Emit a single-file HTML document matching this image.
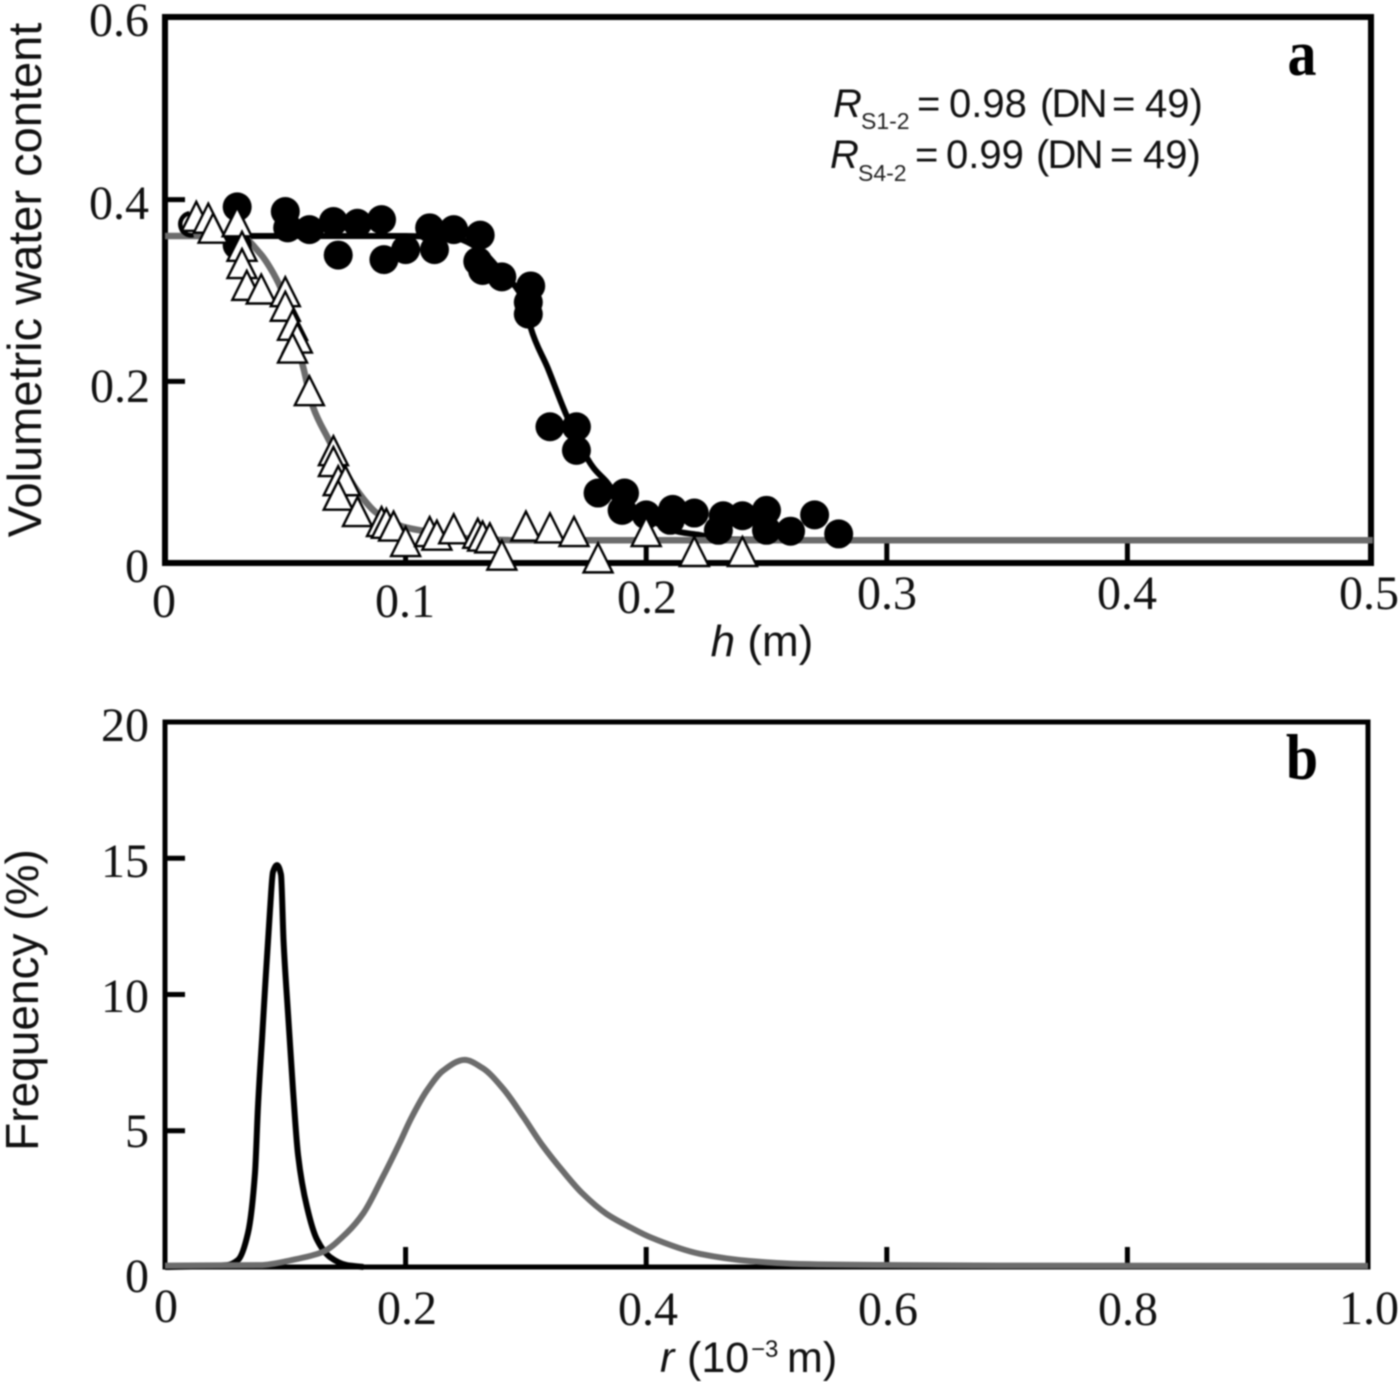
<!DOCTYPE html>
<html lang="en">
<head>
<meta charset="utf-8">
<title>Water retention and pore size distribution</title>
<style>
html,body{margin:0;padding:0;background:#fff;width:1400px;height:1382px;overflow:hidden}
svg{display:block;filter:blur(0.7px)}
.tick{font-family:"Liberation Serif",serif;font-size:48px;fill:#111}
.title{font-family:"Liberation Sans",sans-serif;font-size:44px;fill:#111}
.note{font-family:"Liberation Sans",sans-serif;font-size:40px;fill:#111}
.sub{font-family:"Liberation Sans",sans-serif;font-size:23px;fill:#222}
.panel{font-family:"Liberation Serif",serif;font-size:58px;font-weight:bold;fill:#000}
</style>
</head>
<body>
<svg id="chart" xmlns="http://www.w3.org/2000/svg" width="1400" height="1382" viewBox="0 0 1400 1382">
  <rect x="0" y="0" width="1400" height="1382" fill="#fff"/>
  <g id="panelA"></g>
  <g id="panelB"></g>

  <g text-anchor="middle">
    <text class="tick" x="164" y="617">0</text>
    <text class="tick" x="405" y="617">0.1</text>
    <text class="tick" x="647" y="613">0.2</text>
    <text class="tick" x="887" y="609">0.3</text>
    <text class="tick" x="1127" y="609">0.4</text>
    <text class="tick" x="1369" y="609">0.5</text>
  </g>
  <g text-anchor="end">
    <text class="tick" x="149" y="582">0</text>
    <text class="tick" x="150" y="402">0.2</text>
    <text class="tick" x="149" y="219">0.4</text>
    <text class="tick" x="149" y="36">0.6</text>
  </g>
  <g text-anchor="middle">
    <text class="tick" x="166" y="1322">0</text>
    <text class="tick" x="407" y="1324">0.2</text>
    <text class="tick" x="648" y="1325">0.4</text>
    <text class="tick" x="888" y="1325">0.6</text>
    <text class="tick" x="1128" y="1325">0.8</text>
    <text class="tick" x="1369" y="1324">1.0</text>
  </g>
  <g text-anchor="end">
    <text class="tick" x="149" y="1292">0</text>
    <text class="tick" x="149" y="1147">5</text>
    <text class="tick" x="149" y="1012">10</text>
    <text class="tick" x="149" y="877">15</text>
    <text class="tick" x="149" y="741">20</text>
  </g>

  <text class="title" style="font-size:47px" transform="translate(41,280) rotate(-90)" text-anchor="middle">Volumetric water content</text>
  <text class="title" x="762" y="656" text-anchor="middle"><tspan font-style="italic">h</tspan> (m)</text>
  <text class="title" style="font-size:46px" transform="translate(38,1000) rotate(-90)" text-anchor="middle">Frequency (%)</text>
  <text class="title" style="font-size:43px" y="1372"><tspan x="660" font-style="italic">r</tspan><tspan x="687">(10</tspan><tspan x="751" font-size="24" dy="-15">−3</tspan><tspan x="787" dy="15">m)</tspan></text>

  <text class="panel" transform="translate(1302,75) scale(1,1.12)" text-anchor="middle">a</text>
  <text class="panel" transform="translate(1302,779) scale(1,1.12)" text-anchor="middle">b</text>

  <text class="note" y="117"><tspan x="833" font-style="italic">R</tspan><tspan class="sub" x="861" dy="12">S1-2</tspan><tspan x="917" dy="-12">=</tspan><tspan x="949">0.98</tspan><tspan x="1040" letter-spacing="-1.8">(DN</tspan><tspan x="1112">=</tspan><tspan x="1145">49)</tspan></text>
  <text class="note" y="168"><tspan x="830" font-style="italic">R</tspan><tspan class="sub" x="858" dy="13">S4-2</tspan><tspan x="915" dy="-13">=</tspan><tspan x="946">0.99</tspan><tspan x="1036" letter-spacing="-1.8">(DN</tspan><tspan x="1110">=</tspan><tspan x="1143">49)</tspan></text>
</svg>

<script>
// Panel a: tick positions
var aXTicks = [0.1, 0.2, 0.3, 0.4];
var aYTicks = [0.2, 0.4];

// Panel a: S1-2 measured points (filled circles)
var s1H = [0.03,0.03,0.05,0.051,0.06,0.07,0.072,0.08,0.09,0.091,0.10,0.11,0.112,0.12,0.131,0.13,0.132,0.14,0.152,0.151,0.151,0.16,0.171,0.171,0.18,0.191,0.19,0.20,0.211,0.21,0.22,0.232,0.23,0.24,0.25,0.25,0.26,0.27,0.28];
var s1Theta = [0.392,0.350,0.387,0.369,0.367,0.376,0.339,0.374,0.378,0.334,0.345,0.369,0.345,0.367,0.361,0.332,0.322,0.315,0.305,0.287,0.274,0.150,0.150,0.124,0.077,0.077,0.058,0.053,0.059,0.047,0.055,0.052,0.036,0.052,0.058,0.036,0.035,0.053,0.032];

// Panel a: S4-2 measured points (open triangles)
var s4H = [0.013,0.018,0.020,0.030,0.032,0.032,0.034,0.040,0.050,0.050,0.053,0.055,0.053,0.060,0.070,0.070,0.072,0.075,0.072,0.080,0.090,0.092,0.095,0.100,0.110,0.113,0.120,0.130,0.132,0.135,0.140,0.150,0.160,0.170,0.180,0.200,0.220,0.240];
var s4Theta = [0.380,0.378,0.367,0.374,0.347,0.328,0.304,0.300,0.297,0.281,0.260,0.246,0.235,0.188,0.122,0.110,0.089,0.089,0.073,0.055,0.044,0.042,0.039,0.022,0.033,0.029,0.036,0.031,0.028,0.026,0.007,0.039,0.037,0.033,0.004,0.033,0.011,0.011];

// Panel a: fitted curves
var s1FitH = [0,0.05,0.10,0.120,0.131,0.139,0.150,0.152,0.159,0.167,0.178,0.184,0.189,0.198,0.214,0.222,0.231,0.290];
var s1FitTheta = [0.360,0.360,0.360,0.358,0.345,0.323,0.284,0.259,0.215,0.162,0.105,0.088,0.069,0.053,0.034,0.031,0.026,0.025];
var s4FitH = [0,0.020,0.031,0.0395,0.045,0.049,0.0574,0.0615,0.0674,0.0798,0.088,0.099,0.106,0.131,0.150,0.200,0.300,0.400,0.502];
var s4FitTheta = [0.360,0.360,0.360,0.341,0.319,0.297,0.216,0.172,0.139,0.080,0.055,0.040,0.036,0.026,0.025,0.025,0.025,0.025,0.025];

// Panel b: tick positions
var bXTicks = [0.2, 0.4, 0.6, 0.8];
var bYTicks = [5, 10, 15];

// Panel b: frequency distributions
var narrowR = [0,0.0515,0.0607,0.069,0.0748,0.0773,0.0806,0.0831,0.0873,0.0898,0.0931,0.0964,0.0985,0.1018,0.1064,0.1106,0.118,0.1264,0.137,0.151,0.165];
var narrowFreq = [0,0.07,0.26,1.25,3.45,5.9,8.35,10.2,13.1,14.5,14.75,14.4,12.0,9.6,6.5,4.1,2.2,1.0,0.37,0.07,0];
var wideR = [0,0.079,0.106,0.131,0.151,0.165,0.181,0.195,0.204,0.218,0.231,0.249,0.264,0.281,0.298,0.314,0.331,0.347,0.367,0.387,0.403,0.445,0.486,0.528,0.611,0.694,1.0];
var wideFreq = [0.05,0.07,0.26,0.55,1.25,1.98,3.3,4.55,5.4,6.5,7.2,7.6,7.3,6.55,5.5,4.45,3.5,2.7,1.95,1.45,1.1,0.48,0.22,0.11,0.07,0.05,0.04];

var NS = 'http://www.w3.org/2000/svg';
function mk(parent, tag, attrs) {
  var el = document.createElementNS(NS, tag);
  for (var k in attrs) { el.setAttribute(k, attrs[k]); }
  parent.appendChild(el);
  return el;
}
function linear(d0, d1, r0, r1) {
  return function (v) { return r0 + (v - d0) * (r1 - r0) / (d1 - d0); };
}
// Monotone cubic path through the scaled data points
function smoothPath(xs, ys, sx, sy) {
  var px = xs.map(sx), py = ys.map(sy), n = px.length, s = [], m = [], i;
  for (i = 0; i < n - 1; i++) { s.push((py[i + 1] - py[i]) / (px[i + 1] - px[i])); }
  m[0] = s[0];
  m[n - 1] = s[n - 2];
  for (i = 1; i < n - 1; i++) {
    if (s[i - 1] * s[i] <= 0) { m[i] = 0; continue; }
    var h0 = px[i] - px[i - 1], h1 = px[i + 1] - px[i];
    m[i] = (3 * (h0 + h1)) / ((2 * h1 + h0) / s[i - 1] + (h1 + 2 * h0) / s[i]);
  }
  var d = 'M' + px[0].toFixed(1) + ' ' + py[0].toFixed(1);
  for (i = 0; i < n - 1; i++) {
    var h = (px[i + 1] - px[i]) / 3;
    d += 'C' + (px[i] + h).toFixed(1) + ' ' + (py[i] + m[i] * h).toFixed(1) + ' ' +
         (px[i + 1] - h).toFixed(1) + ' ' + (py[i + 1] - m[i + 1] * h).toFixed(1) + ' ' +
         px[i + 1].toFixed(1) + ' ' + py[i + 1].toFixed(1);
  }
  return d;
}

var ax = linear(0, 0.5, 165, 1368);
var ay = linear(0, 0.6, 563, 18);
var bx = linear(0, 1, 165, 1368);
var by = linear(0, 20, 1267, 722);
var pa = document.getElementById('panelA');
var pb = document.getElementById('panelB');

function drawAxes(g, sx, sy, xTicks, yTicks, left, right, top, bottom, w) {
  var frame = mk(g, 'rect', {x: left, y: top, width: right - left, height: bottom - top, fill: 'none', stroke: '#000', 'stroke-width': w});
  
  
  xTicks.forEach(function (v) {
    var t = mk(g, 'line', {x1: sx(v), x2: sx(v), y1: bottom, y2: bottom - 20, stroke: '#000', 'stroke-width': 5});
    
    
  });
  yTicks.forEach(function (v) {
    var t = mk(g, 'line', {x1: left, x2: left + 20, y1: sy(v), y2: sy(v), stroke: '#000', 'stroke-width': 5});
    
    
  });
}

drawAxes(pa, ax, ay, aXTicks, aYTicks, 165, 1371, 17, 563, 6);
drawAxes(pb, bx, by, bXTicks, bYTicks, 165, 1368, 722, 1267, 5);

var s1Fit = mk(pa, 'path', {d: smoothPath(s1FitH, s1FitTheta, ax, ay), fill: 'none', stroke: '#000', 'stroke-width': 6});


var s4Fit = mk(pa, 'path', {d: smoothPath(s4FitH, s4FitTheta, ax, ay), fill: 'none', stroke: '#6c6c6c', 'stroke-width': 6.5});



var crescent = mk(pa, 'path', {d: 'M' + (ax(0.011) - 2) + ' ' + (ay(0.373) - 11) + 'A11 11 0 0 0 ' + (ax(0.011) + 2) + ' ' + (ay(0.373) + 11), fill: 'none', stroke: '#000', 'stroke-width': 4.5});



s1H.forEach(function (h, i) {
  var c = mk(pa, 'circle', {cx: ax(h), cy: ay(s1Theta[i]), r: 14.5, fill: '#000'});
  
  
});
s4H.forEach(function (h, i) {
  var x = ax(h), y = ay(s4Theta[i]);
  var t = mk(pa, 'polygon', {points: x + ',' + (y - 16) + ' ' + (x + 14.5) + ',' + (y + 13) + ' ' + (x - 14.5) + ',' + (y + 13), fill: '#fff', stroke: '#000', 'stroke-width': 2.4});
  
  
});

var narrow = mk(pb, 'path', {d: smoothPath(narrowR, narrowFreq, bx, by), fill: 'none', stroke: '#000', 'stroke-width': 6});


var wide = mk(pb, 'path', {d: smoothPath(wideR, wideFreq, bx, by), fill: 'none', stroke: '#6c6c6c', 'stroke-width': 6});


</script>
</body>
</html>
